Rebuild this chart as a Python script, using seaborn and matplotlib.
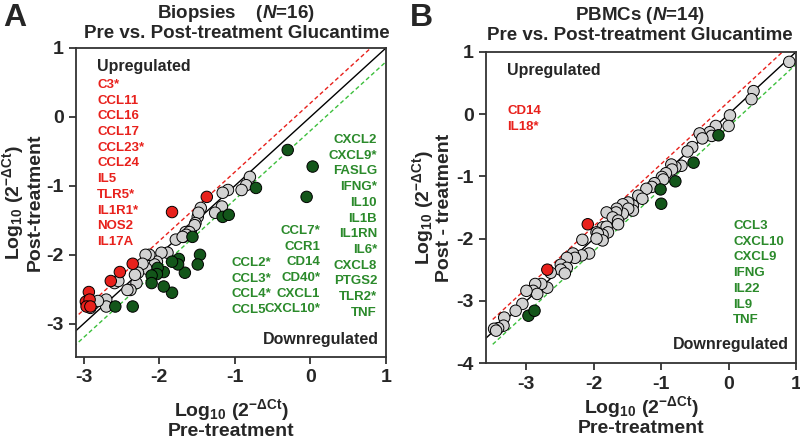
import numpy as np
import pandas as pd
import seaborn as sns
import matplotlib.pyplot as plt

# Panel A - biopsies (log10 2^-dCt, pre vs post)
a_grey_pre = [-0.80, -0.85, -0.91, -1.09, -1.16, -1.45, -1.17, -1.26, -1.49, -1.48, -1.52,
              -1.58, -1.65, -1.68, -1.78, -1.53, -1.60, -1.64, -1.69, -1.89, -1.97, -2.03,
              -2.06, -2.17, -2.13, -2.18, -2.22, -2.28, -2.30, -2.32, -2.38, -2.42, -2.59,
              -2.54, -2.70, -2.70, -2.87, -2.81, -2.91]
a_grey_post = [-0.87, -0.99, -1.06, -1.06, -1.10, -1.32, -1.30, -1.39, -1.45, -1.39, -1.54,
               -1.64, -1.67, -1.74, -1.78, -1.57, -1.67, -1.71, -1.74, -1.97, -1.97, -2.10,
               -2.14, -2.20, -2.00, -2.00, -2.13, -2.26, -2.41, -2.29, -2.51, -2.51, -2.41,
               -2.38, -2.65, -2.75, -2.71, -2.67, -2.77]
a_up_pre = [-1.37, -1.83, -2.35, -2.52, -2.64, -2.93, -2.95, -2.97, -2.92, -2.96, -2.91]
a_up_post = [-1.16, -1.38, -2.13, -2.25, -2.38, -2.54, -2.68, -2.68, -2.65, -2.75, -2.75]
a_down_pre = [-0.30, 0.03, -0.05, -0.72, -1.16, -1.08, -1.56, -1.46, -1.49, -1.66, -1.74,
              -1.75, -1.83, -1.83, -1.94, -1.94, -2.02, -2.03, -2.10, -2.10, -2.35, -2.58]
a_down_post = [-0.48, -0.72, -1.16, -1.03, -1.45, -1.42, -1.74, -2.00, -2.14, -2.26, -2.06,
               -2.14, -2.10, -2.55, -2.25, -2.46, -2.19, -2.28, -2.30, -2.41, -2.75, -2.75]

a_up_genes = ["C3*", "CCL11", "CCL16", "CCL17", "CCL23*", "CCL24", "IL5", "TLR5*",
              "IL1R1*", "NOS2", "IL17A"]
a_down_col3 = ["CXCL2", "CXCL9*", "FASLG", "IFNG*", "IL10", "IL1B", "IL1RN", "IL6*",
               "CXCL8", "PTGS2", "TLR2*", "TNF"]
a_down_col2 = ["CCL7*", "CCR1", "CD14", "CD40*", "CXCL1", "CXCL10*"]
a_down_col1 = ["CCL2*", "CCL3*", "CCL4*", "CCL5"]

# Panel B - PBMCs
b_grey_pre = [0.90, 0.37, 0.34, 0.02, 0.00, -0.19, -0.28, -0.25, -0.43, -0.39, -0.54, -0.61,
              -0.70, -0.79, -0.85, -0.84, -0.93, -0.99, -0.97, -1.10, -1.14, -1.22, -1.34,
              -1.28, -1.42, -1.42, -1.49, -1.57, -1.49, -1.57, -1.66, -1.67, -1.81, -1.72,
              -1.64, -1.87, -1.81, -1.96, -1.87, -1.64, -1.81, -1.79, -1.87, -1.94, -1.87,
              -1.96, -2.17, -2.07, -2.18, -2.31, -2.28, -2.40, -2.49, -2.40, -2.49, -2.43,
              -2.64, -2.69, -2.78, -2.87, -2.90, -2.84, -3.00, -3.06, -3.16, -3.33, -3.34,
              -3.42, -3.48, -3.45]
b_grey_post = [0.84, 0.37, 0.24, -0.02, -0.19, -0.19, -0.29, -0.35, -0.31, -0.39, -0.53, -0.60,
               -0.83, -0.85, -0.81, -0.89, -0.95, -1.01, -1.05, -1.11, -1.17, -1.20, -1.31,
               -1.36, -1.47, -1.55, -1.42, -1.45, -1.52, -1.60, -1.52, -1.58, -1.58, -1.66,
               -1.71, -1.82, -1.87, -1.90, -1.98, -1.77, -1.81, -1.90, -1.94, -1.92, -2.03,
               -2.00, -2.02, -2.24, -2.27, -2.24, -2.31, -2.31, -2.42, -2.47, -2.50, -2.56,
               -2.55, -2.79, -2.73, -2.73, -2.84, -2.89, -2.84, -3.05, -3.16, -3.27, -3.40,
               -3.44, -3.45, -3.48]
b_up_pre = [-2.09, -2.69]
b_up_post = [-1.77, -2.50]
b_down_pre = [-0.15, -0.52, -0.79, -1.01, -1.00, -2.97, -2.88]
b_down_post = [-0.34, -0.78, -1.08, -1.21, -1.44, -3.24, -3.16]

b_up_genes = ["CD14", "IL18*"]
b_down_genes = ["CCL3", "CXCL10", "CXCL9", "IFNG", "IL22", "IL9", "TNF"]

FOLD = 0.2

RED = "#e8211c"
GREEN_PT = "#13561a"
GREEN_TXT = "#2b8a2b"
GREY = "#d2d2d2"

sns.set_theme(style="ticks")
plt.rcParams["font.family"] = ["Liberation Sans", "DejaVu Sans"]
plt.rcParams["font.weight"] = "bold"
plt.rcParams["axes.unicode_minus"] = False
plt.rcParams["mathtext.fontset"] = "custom"
plt.rcParams["mathtext.bf"] = "Liberation Sans:bold"
plt.rcParams["mathtext.rm"] = "Liberation Sans:bold"
plt.rcParams["mathtext.it"] = "Liberation Sans:bold:italic"
plt.rcParams["mathtext.default"] = "bf"

LOG_LABEL = "Log$_{10}$ (2$^{\\mathrm{-\\Delta Ct}}$)"


def make_df(gp, gq, up, uq, dp, dq):
    return pd.DataFrame({
        "pre": gp + up + dp,
        "post": gq + uq + dq,
        "group": ["none"] * len(gp) + ["up"] * len(up) + ["down"] * len(dp),
    })


def draw_panel(ax, df, xlim, ylim, yticks, dash_start, ylabel, ylab_x, xlab_y):
    xs = np.array([xlim[0] - 0.5, xlim[1] + 0.5])
    ax.plot(xs, xs, color="black", lw=1.0, zorder=1)
    xd = np.array([dash_start, xlim[1] + 0.5])
    ax.plot(xd, xd + FOLD, color=RED, lw=1.0, ls=(0, (3, 2)), zorder=1)
    ax.plot(xd, xd - FOLD, color="#3cbf3c", lw=1.0, ls=(0, (3, 2)), zorder=1)
    sns.scatterplot(data=df, x="pre", y="post", hue="group",
                    palette={"none": GREY, "up": RED, "down": GREEN_PT},
                    s=68, edgecolor="black", linewidth=0.7, legend=False, ax=ax, zorder=3)
    ax.set_xlim(*xlim)
    ax.set_ylim(*ylim)
    ax.set_xticks([-3, -2, -1, 0, 1])
    ax.set_yticks(yticks)
    for sp in ax.spines.values():
        sp.set_linewidth(1.3)
        sp.set_color("#333333")
    ax.tick_params(labelsize=14, width=1.3, length=5, color="#333333", pad=4)
    for lab in ax.get_xticklabels() + ax.get_yticklabels():
        lab.set_fontweight("bold")
    ax.set_xlabel(LOG_LABEL + "\nPre-treatment", fontsize=14,
                  fontweight="bold", linespacing=1.0)
    ax.xaxis.set_label_coords(0.5, xlab_y)
    ax.set_ylabel(LOG_LABEL + "\n" + ylabel, fontsize=14,
                  fontweight="bold", linespacing=1.0)
    ax.yaxis.set_label_coords(ylab_x, 0.5)


fig = plt.figure(figsize=(8, 4.4), dpi=100)
ax_a = fig.add_axes([0.095, 0.189, 0.3875, 0.702])
ax_b = fig.add_axes([0.6075, 0.175, 0.3875, 0.707])

df_a = make_df(a_grey_pre, a_grey_post, a_up_pre, a_up_post, a_down_pre, a_down_post)
draw_panel(ax_a, df_a, (-3.1, 1), (-3.48, 1), [-3, -2, -1, 0, 1], -3.2,
           "Post-treatment", -0.105, -0.13)

df_b = make_df(b_grey_pre, b_grey_post, b_up_pre, b_up_post, b_down_pre, b_down_post)
draw_panel(ax_b, df_b, (-3.6, 1), (-4, 1), [-4, -3, -2, -1, 0, 1], -3.5,
           "Post - treatment", -0.108, -0.10)


def px(ax, x, y):
    # figure pixel -> axes fraction
    inv = ax.transAxes.inverted()
    return inv.transform(fig.transFigure.transform((x / 800, 1 - y / 440)))


def gene_column(ax, genes, x, y_first, color, ha):
    for i, g in enumerate(genes):
        xx, yy = px(ax, x, y_first + i * 15.7)
        ax.text(xx, yy, g, transform=ax.transAxes, color=color, fontsize=9.5,
                fontweight="bold", va="center", ha=ha)


def corner_text(ax, x, y, s, ha):
    xx, yy = px(ax, x, y)
    ax.text(xx, yy, s, transform=ax.transAxes, fontsize=11.5, fontweight="bold",
            va="center", ha=ha)


corner_text(ax_a, 97, 66, "Upregulated", "left")
gene_column(ax_a, a_up_genes, 97, 85, RED, "left")
gene_column(ax_a, a_down_col3, 377, 140, GREEN_TXT, "right")
gene_column(ax_a, a_down_col2, 320, 231, GREEN_TXT, "right")
gene_column(ax_a, a_down_col1, 231, 263, GREEN_TXT, "left")
corner_text(ax_a, 379, 339, "Downregulated", "right")

corner_text(ax_b, 507, 71, "Upregulated", "left")
gene_column(ax_b, b_up_genes, 507, 111, RED, "left")
gene_column(ax_b, b_down_genes, 733, 226, GREEN_TXT, "left")
corner_text(ax_b, 789, 344, "Downregulated", "right")

# titles and panel letters
fig.text(236 / 800, 1 - 13 / 440, "Biopsies    ($\\mathit{N}$=16)", ha="center", va="center",
         fontsize=13.5, fontweight="bold")
fig.text(237 / 800, 1 - 33 / 440, "Pre vs. Post-treatment Glucantime", ha="center",
         va="center", fontsize=13.5, fontweight="bold")
fig.text(640 / 800, 1 - 15 / 440, "PBMCs ($\\mathit{N}$=14)", ha="center", va="center",
         fontsize=13.5, fontweight="bold")
fig.text(640 / 800, 1 - 36 / 440, "Pre vs. Post-treatment Glucantime", ha="center",
         va="center", fontsize=13.5, fontweight="bold")
fig.text(3 / 800, 1 - 18 / 440, "A", ha="left", va="center", fontsize=23, fontweight="bold")
fig.text(410 / 800, 1 - 18 / 440, "B", ha="left", va="center", fontsize=23, fontweight="bold")

fig.savefig("out.png", dpi=100)
